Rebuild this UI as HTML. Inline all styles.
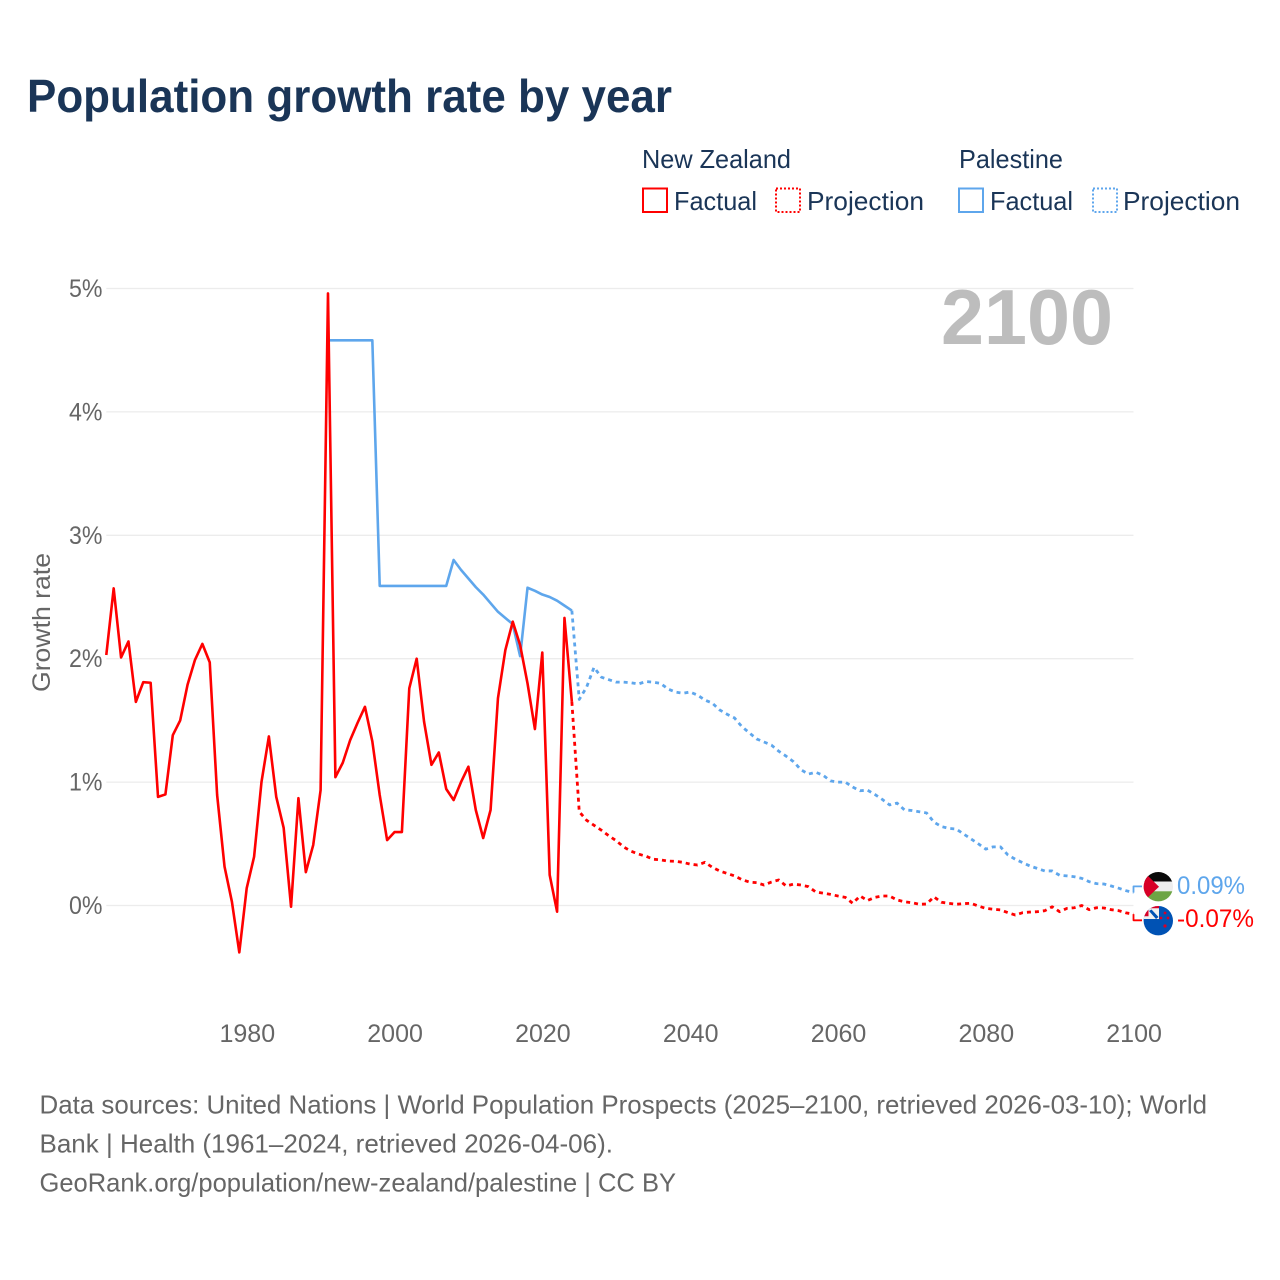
<!DOCTYPE html>
<html lang="en">
<head>
<meta charset="utf-8">
<title>Population growth rate by year</title>
<style>
html,body{margin:0;padding:0;background:#fff;width:1280px;height:1280px;overflow:hidden}
svg{display:block;font-family:"Liberation Sans",sans-serif}
</style>
</head>
<body>
<svg id="chart" width="1280" height="1280" viewBox="0 0 1280 1280" xmlns="http://www.w3.org/2000/svg">
<defs>
<clipPath id="clip-ps"><circle cx="1158.3" cy="886.7" r="14.7"/></clipPath>
<clipPath id="clip-nz"><circle cx="1158.3" cy="920.7" r="14.7"/></clipPath>
</defs>
<rect width="1280" height="1280" fill="#fff"/>
<text x="27" y="112" font-size="46" font-weight="700" fill="#1a3557" textLength="645" lengthAdjust="spacingAndGlyphs">Population growth rate by year</text>

<g font-size="26" fill="#1a3557">
<text x="642" y="168" textLength="149" lengthAdjust="spacingAndGlyphs">New Zealand</text>
<text x="959" y="168" textLength="104" lengthAdjust="spacingAndGlyphs">Palestine</text>
<rect x="643" y="188.5" width="24" height="23.5" fill="none" stroke="#ff0000" stroke-width="2"/>
<text x="674" y="210" textLength="83" lengthAdjust="spacingAndGlyphs">Factual</text>
<rect x="776" y="188.5" width="24" height="23.5" fill="none" stroke="#ff0000" stroke-width="2" stroke-dasharray="2 2"/>
<text x="807" y="210" textLength="117" lengthAdjust="spacingAndGlyphs">Projection</text>
<rect x="959" y="188.5" width="24" height="23.5" fill="none" stroke="#5ea6ec" stroke-width="2"/>
<text x="990" y="210" textLength="83" lengthAdjust="spacingAndGlyphs">Factual</text>
<rect x="1093" y="188.5" width="24" height="23.5" fill="none" stroke="#5ea6ec" stroke-width="2" stroke-dasharray="2 2"/>
<text x="1123" y="210" textLength="117" lengthAdjust="spacingAndGlyphs">Projection</text>
</g>

<g id="grid"></g>
<g id="yticks"></g>
<g id="xticks"></g>
<text transform="translate(50,622.5) rotate(-90)" text-anchor="middle" font-size="25" fill="#666" textLength="139" lengthAdjust="spacingAndGlyphs">Growth rate</text>
<text x="941" y="344" font-size="78" font-weight="700" fill="#bdbdbd" textLength="172" lengthAdjust="spacingAndGlyphs">2100</text>

<g id="series"></g>

<g clip-path="url(#clip-ps)">
<rect x="1143" y="872" width="31" height="10" fill="#0a0a0a"/>
<rect x="1143" y="881.5" width="31" height="10" fill="#eeeeee"/>
<rect x="1143" y="891.3" width="31" height="11" fill="#6da544"/>
<polygon points="1143,871 1159,886.7 1143,902" fill="#d80027"/>
</g>
<g clip-path="url(#clip-nz)">
<rect x="1143" y="905" width="31" height="31" fill="#0052b4"/>
<rect x="1143" y="905" width="16" height="14" fill="#f0f0f0"/>
<path d="M1143 905h16v3.2h-10.5v8h-5.5z" fill="#d80027"/>
<polygon points="1149,911 1151.5,909.5 1158.5,917 1156,919" fill="#0052b4"/>
<circle cx="1165" cy="913" r="1.4" fill="#d80027"/>
<circle cx="1161" cy="918" r="1.4" fill="#d80027"/>
<circle cx="1168" cy="918" r="1.4" fill="#d80027"/>
<circle cx="1165" cy="926" r="1.6" fill="#d80027"/>
</g>
<text x="1177" y="894" font-size="25" fill="#5ea6ec" textLength="68" lengthAdjust="spacingAndGlyphs">0.09%</text>
<text x="1177" y="927" font-size="25" fill="#ff0000" textLength="77" lengthAdjust="spacingAndGlyphs">-0.07%</text>

<g font-size="26" fill="#666">
<text x="39.5" y="1113.5" textLength="1167.5" lengthAdjust="spacingAndGlyphs">Data sources: United Nations | World Population Prospects (2025–2100, retrieved 2026-03-10); World</text>
<text x="39.5" y="1152.5" textLength="573.5" lengthAdjust="spacingAndGlyphs">Bank | Health (1961–2024, retrieved 2026-04-06).</text>
<text x="39.5" y="1191.5" textLength="636.5" lengthAdjust="spacingAndGlyphs">GeoRank.org/population/new-zealand/palestine | CC BY</text>
</g>
</svg>
<script>
const yTickValues = [0, 1, 2, 3, 4, 5];
const xTickYears = [1980, 2000, 2020, 2040, 2060, 2080, 2100];

const nzFactualStart = 1961;
const nzFactual = [2.03,2.57,2.01,2.14,1.65,1.81,1.805,0.88,0.90,1.38,1.50,1.79,1.99,2.12,1.97,0.895,0.315,0.03,-0.38,0.14,0.395,1.00,1.37,0.88,0.63,-0.01,0.87,0.27,0.49,0.935,4.96,1.04,1.157,1.34,1.48,1.61,1.33,0.895,0.53,0.595,0.595,1.76,2.00,1.49,1.14,1.24,0.944,0.855,1.00,1.125,0.774,0.547,0.774,1.68,2.07,2.30,2.11,1.80,1.43,2.05,0.247,-0.05,2.33,1.65];

const nzProjectionStart = 2024;
const nzProjection = [1.65,0.76,0.69,0.65,0.61,0.565,0.525,0.475,0.44,0.417,0.40,0.375,0.37,0.36,0.358,0.35,0.335,0.328,0.35,0.31,0.28,0.26,0.24,0.21,0.19,0.185,0.166,0.19,0.207,0.158,0.173,0.166,0.153,0.11,0.10,0.09,0.077,0.066,0.018,0.077,0.04,0.066,0.077,0.077,0.045,0.03,0.023,0.01,0.012,0.07,0.026,0.018,0.01,0.015,0.018,-0.004,-0.023,-0.03,-0.036,-0.058,-0.077,-0.058,-0.053,-0.05,-0.042,-0.01,-0.05,-0.023,-0.018,0.0,-0.034,-0.018,-0.02,-0.034,-0.042,-0.06,-0.07];

const psFactualStart = 1991;
const psFactual = [4.58,4.58,4.58,4.58,4.58,4.58,4.58,2.59,2.59,2.59,2.59,2.59,2.59,2.59,2.59,2.59,2.59,2.80,2.72,2.65,2.58,2.52,2.45,2.38,2.33,2.28,2.02,2.575,2.55,2.52,2.50,2.47,2.43,2.39];

const psProjectionStart = 2024;
const psProjection = [2.39,1.67,1.77,1.93,1.85,1.83,1.81,1.81,1.805,1.795,1.815,1.81,1.80,1.755,1.73,1.72,1.73,1.705,1.665,1.64,1.585,1.55,1.52,1.45,1.40,1.35,1.325,1.30,1.25,1.21,1.165,1.10,1.065,1.08,1.055,1.01,1.00,1.00,0.96,0.93,0.935,0.90,0.86,0.815,0.83,0.775,0.77,0.76,0.75,0.675,0.64,0.625,0.62,0.58,0.54,0.50,0.457,0.475,0.475,0.41,0.375,0.347,0.32,0.30,0.28,0.28,0.245,0.24,0.233,0.22,0.193,0.177,0.174,0.158,0.14,0.12,0.104];

const nzEndLabelValue = -0.12;
const psEndLabelValue = 0.155;

const SVGNS = 'http://www.w3.org/2000/svg';
function xScale(year) { return 246.7 + (year - 1980) * 7.39; }
function yScale(value) { return 905.5 - value * 123.4; }

function linePath(start, values) {
  return values.map(function (v, i) {
    return (i ? 'L' : 'M') + xScale(start + i).toFixed(2) + ' ' + yScale(v).toFixed(2);
  }).join('');
}

const grid = document.getElementById('grid');
const yticks = document.getElementById('yticks');
yTickValues.forEach(function (v) {
  const l = document.createElementNS(SVGNS, 'line');
  
  
  l.setAttribute('x1', xScale(1961));
  l.setAttribute('x2', xScale(2100));
  l.setAttribute('y1', yScale(v));
  l.setAttribute('y2', yScale(v));
  l.setAttribute('stroke', '#ececec');
  l.setAttribute('stroke-width', '1.3');
  grid.appendChild(l);
  const t = document.createElementNS(SVGNS, 'text');
  
  
  t.setAttribute('x', '69');
  t.setAttribute('y', yScale(v) + 8.5);
  t.setAttribute('font-size', '25');
  t.setAttribute('fill', '#666');
  t.setAttribute('textLength', '33.5');
  t.setAttribute('lengthAdjust', 'spacingAndGlyphs');
  t.textContent = v + '%';
  yticks.appendChild(t);
});

const xticks = document.getElementById('xticks');
xTickYears.forEach(function (y) {
  const t = document.createElementNS(SVGNS, 'text');
  
  
  t.setAttribute('x', xScale(y) + 0.6);
  t.setAttribute('y', '1042');
  t.setAttribute('text-anchor', 'middle');
  t.setAttribute('font-size', '25');
  t.setAttribute('fill', '#666');
  t.textContent = y;
  xticks.appendChild(t);
});

const series = document.getElementById('series');
function addPath(d, name, color, width, dash) {
  const p = document.createElementNS(SVGNS, 'path');
  
  
  p.setAttribute('d', d);
  p.setAttribute('fill', 'none');
  p.setAttribute('stroke', color);
  p.setAttribute('stroke-width', width);
  p.setAttribute('stroke-linejoin', 'round');
  if (dash) p.setAttribute('stroke-dasharray', dash);
  series.appendChild(p);
}
addPath(linePath(psProjectionStart, psProjection), 'palestine-projection-line', '#5ea6ec', '2.8', '4 4');
addPath(linePath(nzProjectionStart, nzProjection), 'new-zealand-projection-line', '#ff0000', '2.8', '4 4');
addPath(linePath(psFactualStart, psFactual), 'palestine-factual-line', '#5ea6ec', '2.6');
addPath(linePath(nzFactualStart, nzFactual), 'new-zealand-factual-line', '#ff0000', '2.6');

const psLast = psProjection[psProjection.length - 1];
const nzLast = nzProjection[nzProjection.length - 1];
addPath('M' + xScale(2100) + ' ' + yScale(psLast) + 'V' + yScale(psEndLabelValue) + 'H1142', 'palestine-end-connector', '#5ea6ec', '1.8');
addPath('M' + xScale(2100) + ' ' + yScale(nzLast) + 'V' + yScale(nzEndLabelValue) + 'H1142', 'new-zealand-end-connector', '#ff0000', '1.8');
</script>
</body>
</html>
